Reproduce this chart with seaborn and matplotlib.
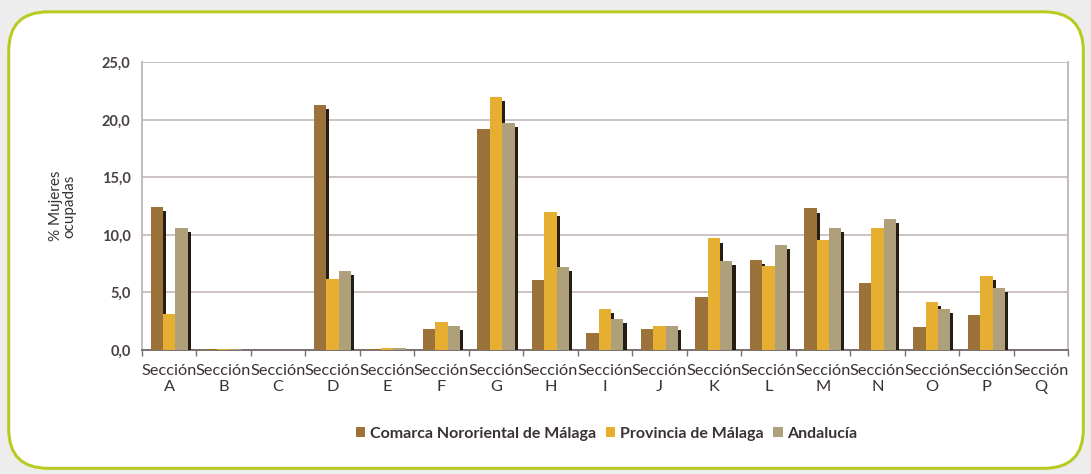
import seaborn as sns
import matplotlib.pyplot as plt
import matplotlib.patheffects as pe
from matplotlib.patches import FancyBboxPatch
from matplotlib.ticker import FuncFormatter, FixedLocator
import pandas as pd

secciones = list("ABCDEFGHIJKLMNOPQ")
series = ["Comarca Nororiental de Málaga", "Provincia de Málaga", "Andalucía"]
comarca = [12.4, 0.05, 0.0, 21.3, 0.05, 1.8, 19.2, 6.1, 1.5, 1.85, 4.6, 7.8, 12.3, 5.85, 2.0, 3.0, 0.0]
provincia = [3.1, 0.1, 0.0, 6.2, 0.2, 2.4, 22.0, 12.0, 3.6, 2.1, 9.7, 7.3, 9.6, 10.6, 4.2, 6.45, 0.0]
andalucia = [10.6, 0.1, 0.0, 6.9, 0.15, 2.1, 19.7, 7.2, 2.7, 2.1, 7.75, 9.1, 10.6, 11.4, 3.6, 5.4, 0.0]
colores = ["#9B733A", "#E6AF32", "#ADA07A"]

labels = [f"Sección\n{s}" for s in secciones]
df = pd.DataFrame({
    "seccion": labels * 3,
    "serie": [series[0]] * 17 + [series[1]] * 17 + [series[2]] * 17,
    "valor": comarca + provincia + andalucia,
})

sns.set_style("white")
plt.rcParams['font.family'] = ['Lato', 'DejaVu Sans']

fig = plt.figure(figsize=(10.91, 4.74), dpi=100)
fig.patch.set_facecolor("#EDEDED")
marco = FancyBboxPatch((0.008, 0.012), 0.985, 0.963, boxstyle="round,pad=0,rounding_size=0.036",
                       transform=fig.transFigure, facecolor="white", edgecolor="#B9CB22",
                       linewidth=2.2, mutation_aspect=1091 / 474, zorder=-10)
fig.patches.append(marco)

ax = fig.add_axes([0.130, 0.2616, 0.849, 0.607])
ax.set_zorder(1)
ax.set_facecolor("white")
sns.barplot(data=df, x="seccion", y="valor", hue="serie", palette=colores,
            width=0.68, saturation=1, ax=ax, legend=True)

for bar in ax.patches:
    bar.set_linewidth(0)
    bar.set_path_effects([pe.SimplePatchShadow(offset=(2.2, -3), shadow_rgbFace="#1a1208", alpha=0.95),
                          pe.Normal()])
    bar.set_zorder(3)

ax.set_ylim(0, 25)
ax.set_xlim(-0.5, 16.5)
ax.set_yticks([0, 5, 10, 15, 20, 25])
ax.yaxis.set_major_formatter(FuncFormatter(lambda v, p: f"{v:.1f}".replace(".", ",")))
ax.grid(axis="y", color="#CBC3C3", linewidth=1.4, zorder=0)
ax.set_axisbelow(True)
for s in ["left", "bottom", "right"]:
    ax.spines[s].set_color("#C4BCBC")
    ax.spines[s].set_linewidth(1.4)
ax.spines["top"].set_visible(False)
ax.spines["bottom"].set_color("#7A7070")

ax.xaxis.set_minor_locator(FixedLocator([i - 0.5 for i in range(18)]))
ax.tick_params(axis="x", which="minor", length=4, width=1, color="#7A7070", direction="out", bottom=True)
ax.tick_params(axis="x", which="major", length=0, labelsize=11.8, labelcolor="#3A3232", pad=10)
ax.tick_params(axis="y", length=0, labelsize=10.5, labelcolor="#4A4242", pad=8)
for t in ax.get_yticklabels():
    t.set_fontweight("bold")
for t in ax.get_xticklabels():
    t.set_linespacing(1.15)

ax.set_xlabel("")
ax.set_ylabel("% Mujeres\nocupadas", fontsize=11, color="#3A3232", labelpad=18, linespacing=1.0)

handles, lbls = ax.get_legend_handles_labels()
ax.get_legend().remove()
for h in handles:
    h.set_path_effects([])
fig.legend(handles, lbls, loc="center", bbox_to_anchor=(0.556, 0.085), ncol=3, frameon=False,
           handlelength=0.6, handleheight=0.6, handletextpad=0.3, columnspacing=0.6,
           prop={"size": 11.5, "weight": "bold"}, labelcolor="#3A3232")

fig.savefig("out.png", dpi=100, facecolor=fig.get_facecolor())
